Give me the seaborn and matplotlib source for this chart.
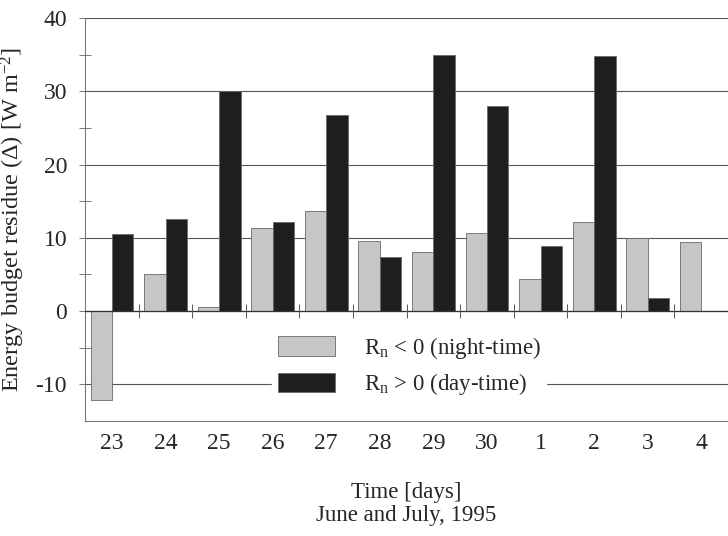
import numpy as np
import pandas as pd
import matplotlib
matplotlib.use("Agg")
import matplotlib.pyplot as plt
import seaborn as sns

# values (W m-2)
days = ["23", "24", "25", "26", "27", "28", "29", "30", "1", "2", "3", "4"]
night = [-12.2, 5.1, 0.5, 11.3, 13.6, 9.5, 8.1, 10.6, 4.4, 12.1, 10.0, 9.4]
day = [10.5, 12.5, 30.0, 12.2, 26.8, 7.4, 35.0, 28.0, 8.9, 34.8, 1.8, np.nan]

night_label = r"R$_\mathrm{n}$ < 0 (night-time)"
day_label = r"R$_\mathrm{n}$ > 0 (day-time)"

df = pd.DataFrame({
    "day": days * 2,
    "residue": night + day,
    "period": ["night"] * len(days) + ["day"] * len(days),
}).dropna()

sns.set_theme(style="white")
plt.rcParams["font.family"] = ["Liberation Serif", "DejaVu Serif"]
plt.rcParams["mathtext.fontset"] = "custom"
plt.rcParams["mathtext.rm"] = "Liberation Serif"
plt.rcParams["mathtext.it"] = "Liberation Serif:italic"
plt.rcParams["axes.unicode_minus"] = False

fig = plt.figure(figsize=(7.28, 5.36), dpi=100)
ax = fig.add_axes([0.117, 0.2146, 0.883, 0.7518])

sns.barplot(data=df, x="day", y="residue", hue="period", order=days,
            hue_order=["night", "day"],
            palette={"night": "#c6c6c6", "day": "#1e1e1e"},
            width=0.8, edgecolor="#6a6a6a", linewidth=0.6, ax=ax, zorder=2)

ax.set_xlim(-0.5, len(days) - 0.5)
ax.set_ylim(-15, 40)
ax.set_yticks([-10, 0, 10, 20, 30, 40])
ax.set_yticks([-5, 5, 15, 25, 35], minor=True)
ax.grid(axis="y", which="major", color="#555555", linewidth=0.8)
ax.set_axisbelow(True)

# zero line with small separators between the days
ax.axhline(0, color="#333333", linewidth=0.9, zorder=3)
ax.vlines(np.arange(0.5, len(days) - 0.5, 1), -0.9, 0.9,
          color="#555555", linewidth=0.7, zorder=3)

for side in ["top", "right"]:
    ax.spines[side].set_visible(False)
ax.spines["left"].set_color("#777777")
ax.spines["bottom"].set_color("#777777")
ax.spines["left"].set_linewidth(0.8)
ax.spines["bottom"].set_linewidth(0.8)

ax.tick_params(axis="y", which="major", direction="out", length=4, width=0.7,
               color="#777777", labelsize=17, pad=9, left=True)
ax.tick_params(axis="y", which="minor", direction="inout", length=9, width=0.7,
               color="#777777", left=True)
ax.tick_params(axis="x", length=0, labelsize=17, pad=9)

ax.set_ylabel(r"Energy budget residue ($\Delta$) [W m$^{-2}$]", fontsize=17.5,
              labelpad=6)
ax.set_xlabel("Time [days]\nJune and July, 1995", fontsize=16.5, labelpad=20,
              linespacing=1.12)

handles, _ = ax.get_legend_handles_labels()
leg = ax.legend(handles, [night_label, day_label], loc="center",
                bbox_to_anchor=(0.504, 0.136), fontsize=16.5, frameon=True,
                facecolor="white", edgecolor="white", framealpha=1,
                handlelength=2.5, handleheight=0.95, labelspacing=0.45,
                handletextpad=1.25, borderpad=0.25, borderaxespad=0,
                fancybox=False)
leg.set_zorder(5)

fig.savefig("out.png", dpi=100)
